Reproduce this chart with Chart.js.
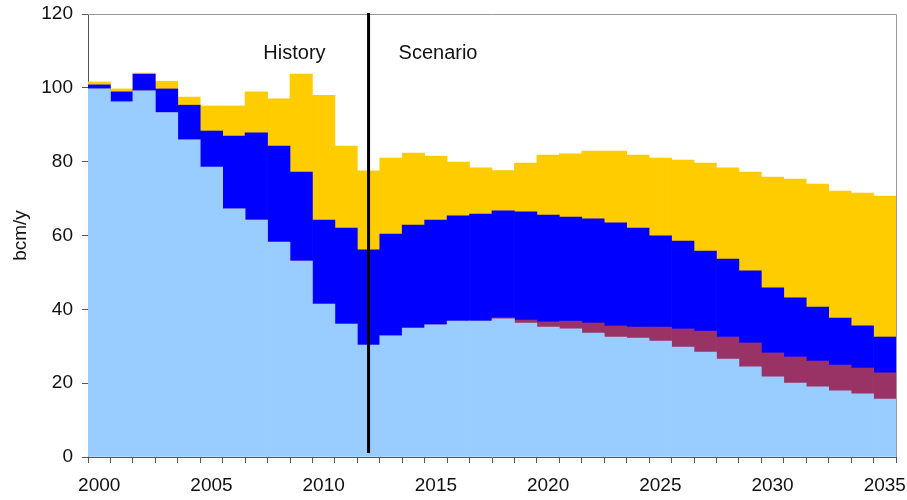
<!DOCTYPE html>
<html>
<head>
<meta charset="utf-8">
<script src="https://cdn.jsdelivr.net/npm/chart.js@4/dist/chart.umd.min.js"></script>
<style>
  body { margin: 0; background: #fff; }
  #wrap { width: 907px; height: 500px; }
</style>
</head>
<body>
<div id="wrap"><canvas id="myChart" width="907" height="500"></canvas></div>
<script>
var years = [];
for (var yr = 2000; yr <= 2035; yr++) years.push(String(yr));

var lightBlue = [99.7, 96.2, 99.2, 93.3, 85.9, 78.5, 67.2, 64.2, 58.2, 53.1, 41.4, 36.0,
  30.3, 32.8, 34.9, 35.8, 36.8, 36.8, 37.4, 36.3, 35.2, 34.7, 33.6, 32.5,
  32.2, 31.4, 29.8, 28.4, 26.5, 24.4, 21.7, 20.0, 19.0, 17.9, 17.1, 15.7];
var maroon = [0, 0, 0, 0, 0, 0, 0, 0, 0, 0, 0, 0,
  0, 0, 0, 0, 0, 0, 0.3, 0.8, 1.4, 2.1, 2.7, 3.0,
  3.0, 3.8, 4.9, 5.7, 6.0, 6.5, 6.5, 7.1, 7.0, 7.0, 7.0, 7.1];
var blue = [1.1, 2.7, 4.5, 6.4, 9.4, 9.8, 19.7, 23.6, 26.0, 24.1, 22.8, 26.0,
  25.8, 27.6, 27.9, 28.4, 28.5, 29.0, 29.0, 29.3, 28.9, 28.2, 28.2, 27.9,
  26.8, 24.7, 23.8, 21.7, 21.1, 19.5, 17.6, 16.0, 14.6, 12.7, 11.4, 9.7];
var gold = [0.8, 0.8, 0.3, 2.1, 2.2, 6.8, 8.2, 11.1, 12.8, 26.5, 33.8, 22.2,
  21.4, 20.6, 19.5, 17.3, 14.6, 12.5, 10.9, 13.2, 16.3, 17.1, 18.4, 19.5,
  19.8, 21.1, 21.9, 23.8, 24.7, 26.8, 30.0, 32.2, 33.3, 34.4, 36.0, 38.2];

var yTicks = [0, 20, 40, 60, 80, 100, 120];
var splitYear = "2012";

var fontFamily = "'Liberation Sans', Arial, sans-serif";

var decorPlugin = {
  id: "decor",
  beforeDatasetsDraw: function(chart) {
    var a = chart.chartArea, ctx = chart.ctx;
    ctx.save();
    ctx.strokeStyle = "#999";
    ctx.lineWidth = 1;
    ctx.beginPath();
    ctx.moveTo(a.left, a.top + 0.5);
    ctx.lineTo(a.right + 0.5, a.top + 0.5);
    ctx.lineTo(a.right + 0.5, a.bottom);
    ctx.stroke();
    ctx.restore();
  },
  afterDatasetsDraw: function(chart) {
    var a = chart.chartArea, ctx = chart.ctx;
    var x = chart.scales.x.getPixelForValue(years.indexOf(splitYear));
    var ty = chart.scales.y.getPixelForValue(109.3);
    ctx.save();
    ctx.strokeStyle = "#000";
    ctx.lineWidth = 3;
    ctx.beginPath();
    ctx.moveTo(x, a.top - 1);
    ctx.lineTo(x, a.bottom - 4);
    ctx.stroke();
    ctx.fillStyle = "#111";
    ctx.font = "20px " + fontFamily;
    ctx.textBaseline = "middle";
    ctx.textAlign = "right";
    ctx.fillText("History", x - 43, ty);
    ctx.textAlign = "left";
    ctx.fillText("Scenario", x + 30, ty);
    ctx.restore();
  }
};

function ds(label, data, color) {
  return {
    label: label,
    data: data,
    backgroundColor: color,
    borderWidth: 0,
    barPercentage: 1.0,
    categoryPercentage: 1.0
  };
}

new Chart("myChart", {
  type: "bar",
  data: {
    labels: years,
    datasets: [
      ds("light blue", lightBlue, "#99CCFF"),
      ds("maroon", maroon, "#993366"),
      ds("blue", blue, "#0000FF"),
      ds("gold", gold, "#FFCC00")
    ]
  },
  options: {
    responsive: false,
    animation: false,
    layout: { padding: { top: 14, right: 11, left: 0, bottom: 0 } },
    plugins: {
      legend: { display: false },
      tooltip: { enabled: false }
    },
    scales: {
      x: {
        stacked: true,
        offset: true,
        grid: {
          offset: true,
          drawOnChartArea: false,
          tickLength: 6,
          color: "#555"
        },
        border: { color: "#555", width: 1 },
        ticks: {
          autoSkip: false,
          maxRotation: 0,
          padding: 11,
          color: "#111",
          font: { family: fontFamily, size: 19 },
          callback: function(v, i) { return i % 5 === 0 ? years[i] : ""; }
        },
        afterFit: function(s) {
          s.height = 43;
          s.paddingLeft = 0;
          s.paddingRight = 0;
        }
      },
      y: {
        stacked: true,
        min: 0,
        max: 120,
        afterBuildTicks: function(s) {
          s.ticks = yTicks.map(function(v) { return { value: v }; });
        },
        grid: {
          drawOnChartArea: false,
          tickLength: 6,
          color: "#555"
        },
        border: { color: "#555", width: 1 },
        ticks: {
          padding: 9,
          color: "#111",
          font: { family: fontFamily, size: 19 }
        },
        title: {
          display: true,
          text: "bcm/y",
          color: "#111",
          font: { family: fontFamily, size: 19 },
          padding: { top: 9, bottom: 4 }
        },
        afterFit: function(s) {
          s.width = 88;
          s.paddingTop = 0;
          s.paddingBottom = 0;
        }
      }
    }
  },
  plugins: [decorPlugin]
});
</script>
</body>
</html>
